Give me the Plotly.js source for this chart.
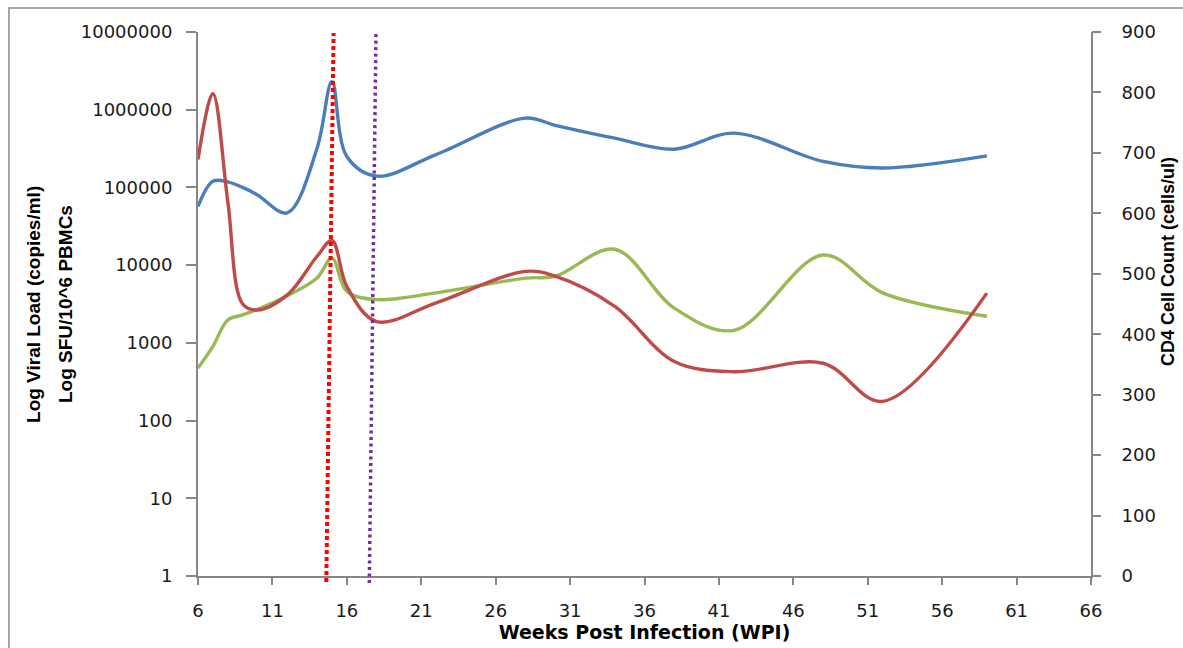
<!DOCTYPE html>
<html>
<head>
<meta charset="utf-8">
<script src="https://cdn.plot.ly/plotly-3.0.1.min.js"></script>
<style>
  html, body { margin: 0; padding: 0; background: #ffffff; }
  #chart { width: 1183px; height: 648px; }
</style>
</head>
<body>
<div id="chart"></div>
<script>
// Sampling weeks (weeks post infection)
const weeks = [6, 7, 8, 9, 10, 12, 14, 15, 16, 18, 22, 28, 30, 34, 38, 42, 48, 52, 59];

// Plasma viral load, copies/ml (left, log axis)
const viralLoad = [57000, 120000, 118000, 100000, 80000, 47000, 320000, 2300000, 250000, 140000, 265000, 780000, 630000, 430000, 310000, 500000, 216000, 178000, 255000];

// IFN-g ELISPOT, SFU per 10^6 PBMCs (left, log axis)
const sfu = [474, 900, 1970, 2290, 2700, 4040, 6840, 12300, 4600, 3600, 4400, 6800, 7200, 16000, 2800, 1450, 13500, 4400, 2200];

// CD4 count, cells/ul (right axis)
const cd4 = [689, 798, 620, 450, 440, 465, 529, 555, 479, 421, 452, 504, 496, 446, 355, 338, 352, 289, 468];

// Event markers (week at the foot and at the top of each dotted line)
const eventRedWeeks = [14.62, 15.11];
const eventPurpleWeeks = [17.51, 17.96];

// Axis ticks
const xTicks = [6, 11, 16, 21, 26, 31, 36, 41, 46, 51, 56, 61, 66];
const leftTicks = [1, 10, 100, 1000, 10000, 100000, 1000000, 10000000];
const leftTickText = ['1', '10', '100', '1000', '10000', '100000', '1000000', '10000000'];
const rightTicks = [0, 100, 200, 300, 400, 500, 600, 700, 800, 900];

const axisGray = '#868686';
const tickFont = { family: 'DejaVu Sans', size: 18, color: '#1a1a1a' };
const sideTitleFont = { family: 'Liberation Sans', size: 19, color: '#000000', weight: 'bold' };

const traces = [
  {
    x: weeks, y: viralLoad, name: 'Viral load', type: 'scatter', mode: 'lines',
    line: { color: '#4A7EBB', width: 3.4, shape: 'spline', smoothing: 1 },
    yaxis: 'y', hoverinfo: 'x+y'
  },
  {
    x: weeks, y: cd4, name: 'CD4 count', type: 'scatter', mode: 'lines',
    line: { color: '#BE4B48', width: 3.4, shape: 'spline', smoothing: 1 },
    yaxis: 'y2', hoverinfo: 'x+y'
  },
  {
    x: weeks, y: sfu, name: 'SFU', type: 'scatter', mode: 'lines',
    line: { color: '#98B954', width: 3.4, shape: 'spline', smoothing: 1 },
    yaxis: 'y', hoverinfo: 'x+y'
  },
  // empty trace so the tick-mark-only CD4 axis gets drawn
  { x: [], y: [], type: 'scatter', mode: 'lines', yaxis: 'y3', showlegend: false, hoverinfo: 'skip' }
];

const layout = {
  width: 1183,
  height: 648,
  margin: { l: 198, r: 92, t: 32, b: 72, pad: 0 },
  paper_bgcolor: '#ffffff',
  plot_bgcolor: '#ffffff',
  showlegend: false,
  xaxis: {
    range: [6, 66],
    tickmode: 'array', tickvals: xTicks, ticktext: xTicks.map(String),
    showline: true, linecolor: axisGray, linewidth: 2,
    ticks: 'outside', ticklen: 7, tickwidth: 2, tickcolor: axisGray,
    ticklabelstandoff: 10,
    showgrid: false, zeroline: false,
    tickfont: tickFont,
    title: { text: 'Weeks Post Infection (WPI)', font: { family: 'DejaVu Sans', size: 19, color: '#000', weight: 'bold' }, standoff: 4 }
  },
  yaxis: {
    type: 'log', range: [0, 7],
    tickmode: 'array', tickvals: leftTicks, ticktext: leftTickText,
    showline: true, linecolor: axisGray, linewidth: 2,
    ticks: 'outside', ticklen: 10, tickwidth: 2, tickcolor: axisGray,
    ticklabelstandoff: 10,
    showgrid: false, zeroline: false,
    tickfont: tickFont
  },
  // CD4 scale: labels sit a little further out than the tick marks
  yaxis2: {
    overlaying: 'y', side: 'right', range: [0, 900],
    tickmode: 'array', tickvals: rightTicks, ticktext: rightTicks.map(String),
    showline: true, linecolor: axisGray, linewidth: 2,
    ticks: 'outside', ticklen: 25, tickwidth: 2, tickcolor: 'rgba(0,0,0,0)',
    showgrid: false, zeroline: false,
    tickfont: tickFont
  },
  // short visible tick marks on the CD4 scale
  yaxis3: {
    overlaying: 'y', side: 'right', range: [0, 900],
    tickmode: 'array', tickvals: rightTicks,
    showticklabels: false,
    showline: false,
    ticks: 'outside', ticklen: 9, tickwidth: 2, tickcolor: axisGray,
    showgrid: false, zeroline: false
  },
  annotations: [
    {
      text: 'Log Viral Load (copies/ml)', textangle: -90,
      xref: 'paper', yref: 'paper', x: -0.1848, y: 0.5,
      xanchor: 'center', yanchor: 'middle', showarrow: false,
      font: sideTitleFont
    },
    {
      text: 'Log SFU/10^6 PBMCs', textangle: -90,
      xref: 'paper', yref: 'paper', x: -0.1489, y: 0.5,
      xanchor: 'center', yanchor: 'middle', showarrow: false,
      font: sideTitleFont
    },
    {
      text: 'CD4 Cell Count (cells/ul)', textangle: -90,
      xref: 'paper', yref: 'paper', x: 1.0862, y: 0.579,
      xanchor: 'center', yanchor: 'middle', showarrow: false,
      font: { family: 'Liberation Sans', size: 18, color: '#000000', weight: 'bold' }
    }
  ],
  shapes: [
    // outer chart frame
    { type: 'rect', xref: 'paper', yref: 'paper', x0: -0.2117, x1: 1.2, y0: -0.3, y1: 1.0441,
      line: { color: '#8c8c8c', width: 1.5 }, fillcolor: 'rgba(0,0,0,0)', layer: 'below' },
    { type: 'line', xref: 'x', yref: 'paper', x0: eventRedWeeks[0], x1: eventRedWeeks[1], y0: -0.011, y1: 0.998,
      line: { color: '#FF0000', width: 4, dash: '4px,3px' } },
    { type: 'line', xref: 'x', yref: 'paper', x0: eventPurpleWeeks[0], x1: eventPurpleWeeks[1], y0: -0.013, y1: 1.0,
      line: { color: '#7030A0', width: 3.5, dash: '3px,3.5px' } }
  ]
};

Plotly.newPlot('chart', traces, layout, { staticPlot: true, displayModeBar: false });
</script>
</body>
</html>
